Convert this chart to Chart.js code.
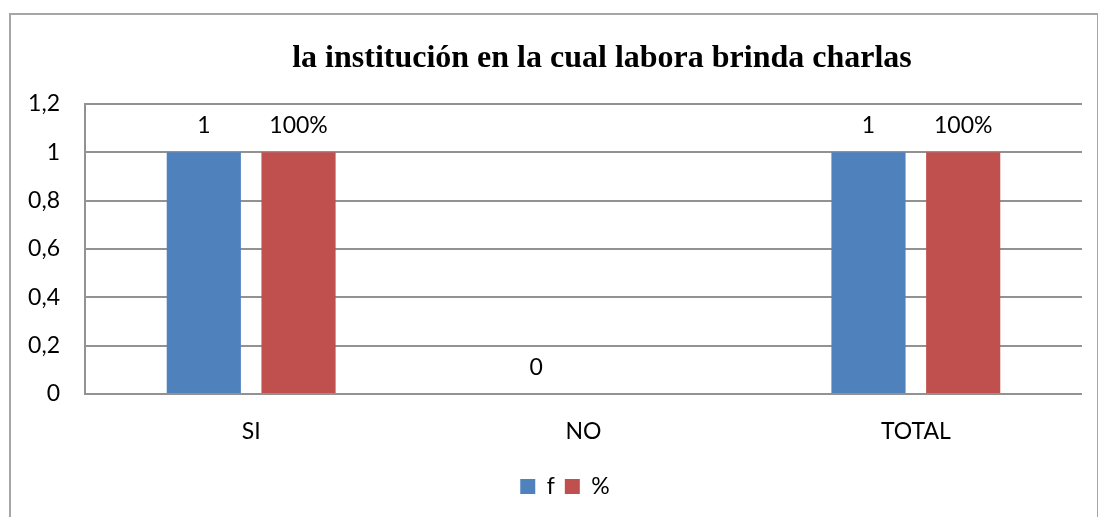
<!DOCTYPE html>
<html>
<head>
<meta charset="utf-8">
<script src="https://cdn.jsdelivr.net/npm/chart.js@4"></script>
<style>
  html, body { margin: 0; padding: 0; background: #fff; }
  #wrap { position: relative; width: 1098px; height: 517px; overflow: hidden; }
  #frame { position: absolute; left: 9px; top: 13px; width: 1086px; height: 520px; border: 2px solid #a6a6a6; }
  canvas { position: absolute; left: 0; top: 0; }
</style>
</head>
<body>
<div id="wrap">
  <div id="frame"></div>
  <canvas id="chart" width="1098" height="517"></canvas>
</div>
<script>
const chartTitle = 'la institución en la cual labora brinda charlas';
const categories = ['SI', 'NO', 'TOTAL'];
const fValues = [1, 0, 1];
const pctValues = [1, null, 1];
const yTicks = [0, 0.2, 0.4, 0.6, 0.8, 1, 1.2];

const gridColor = '#929292';
const labelFont = '23px Lato';

// title drawn by hand so it can sit off-centre like the original
const titlePlugin = {
  id: 'titleText',
  afterLayout(chart) {
    // nudge the legend right, the original is not centred on the canvas
    chart.legend.left += 48;
  },
  afterDraw(chart) {
    const ctx = chart.ctx;
    ctx.save();
    ctx.font = 'bold 32px "Liberation Serif"';
    ctx.fillStyle = '#000';
    ctx.textAlign = 'center';
    ctx.textBaseline = 'alphabetic';
    ctx.fillText(chartTitle, 602, 67);
    ctx.restore();
  }
};

// value labels above each bar
const valueLabels = {
  id: 'valueLabels',
  afterDatasetsDraw(chart) {
    const ctx = chart.ctx;
    ctx.save();
    ctx.font = labelFont;
    ctx.fillStyle = '#000';
    ctx.textAlign = 'center';
    ctx.textBaseline = 'alphabetic';
    chart.data.datasets.forEach((ds, di) => {
      const meta = chart.getDatasetMeta(di);
      meta.data.forEach((bar, i) => {
        const v = ds.data[i];
        if (v === null || v === undefined) return;
        const txt = ds.label === '%' ? Math.round(v * 100) + '%' : String(v);
        ctx.fillText(txt, bar.x, bar.y - 19);
      });
    });
    ctx.restore();
  }
};

new Chart(document.getElementById('chart'), {
  type: 'bar',
  data: {
    labels: categories,
    datasets: [
      { label: 'f', data: fValues, backgroundColor: '#4F81BD', borderWidth: 0 },
      { label: '%', data: pctValues, backgroundColor: '#C0504D', borderWidth: 0 }
    ]
  },
  options: {
    responsive: false,
    animation: false,
    categoryPercentage: 0.57,
    barPercentage: 0.783,
    layout: { padding: { top: 104, left: 0, right: 16, bottom: 9 } },
    scales: {
      x: {
        grid: { display: false, drawTicks: false },
        border: { display: false },
        ticks: { color: '#000', font: { family: 'Lato', size: 23 }, padding: 24 },
        afterFit: s => { s.height = 71; }
      },
      y: {
        min: 0,
        max: 1.2,
        afterBuildTicks: s => { s.ticks = yTicks.map(v => ({ value: v })); },
        grid: { color: gridColor, lineWidth: 2, drawTicks: false },
        border: { display: true, color: gridColor, width: 2 },
        ticks: {
          color: '#000',
          font: { family: 'Lato', size: 23 },
          padding: 25,
          callback: v => String(Number(v.toFixed(1))).replace('.', ',')
        },
        afterFit: s => { s.width = 85; }
      }
    },
    plugins: {
      title: { display: false },
      tooltip: { enabled: false },
      legend: {
        position: 'bottom',
        labels: {
          boxWidth: 15,
          boxHeight: 15,
          padding: 10,
          color: '#000',
          font: { family: 'Lato', size: 23 }
        }
      }
    }
  },
  plugins: [titlePlugin, valueLabels]
});
</script>
</body>
</html>
